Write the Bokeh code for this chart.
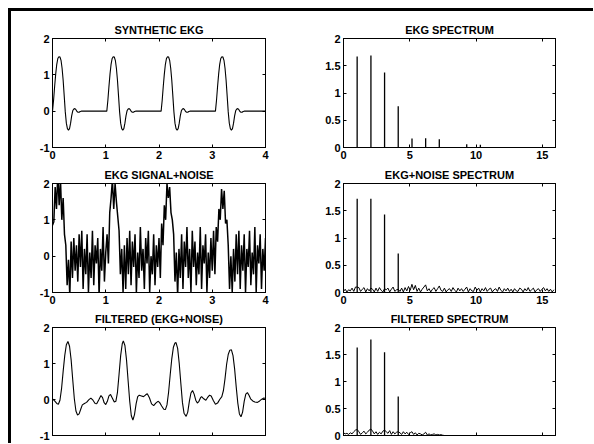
import numpy as np
from bokeh.plotting import figure
from bokeh.models import Range1d, FixedTicker, LinearAxis
from bokeh.layouts import gridplot
from bokeh.embed import file_html
from bokeh.resources import INLINE

FONT = "Liberation Sans"

# ---------------- data ----------------
titles = ["SYNTHETIC EKG", "EKG SPECTRUM", "EKG SIGNAL+NOISE",
          "EKG+NOISE SPECTRUM", "FILTERED (EKG+NOISE)", "FILTERED SPECTRUM"]

time_ticks = [0, 1, 2, 3, 4]
time_tick_labels = ["0", "1", "2", "3", "4"]
amp_ticks = [-1, 0, 1, 2]
amp_tick_labels = ["-1", "0", "1", "2"]
freq_ticks = [0, 5, 10, 15]
freq_tick_labels = ["0", "5", "10", "15"]
mag_ticks = [0, 0.5, 1, 1.5, 2]
mag_tick_labels = ["0", "0.5", "1", "1.5", "2"]

# one beat of the synthetic EKG, sampled every 0.02 s from beat start
beat_dt = 0.02
ekg_beat = [0.0, 0.30, 0.68, 1.02, 1.29, 1.45, 1.50, 1.49, 1.40, 1.18, 0.85,
            0.42, -0.02, -0.33, -0.48, -0.52, -0.48, -0.33, -0.13, 0.01, 0.06,
            0.07, 0.04, -0.01, -0.03, -0.03, -0.01, 0.0]
beat_starts = [0.0, 1.02, 2.04, 3.06]
ekg_end = 4.0

# EKG + noise, sampled every 0.025 s
noisy_dt = 0.025
noisy = [0.85, 0.95, 1.9, 1.3, 2.3, 1.4, 2.1, 1.0, 1.6, 0.6, 0.3, -0.8, -0.1, -1.1, 0.4, -0.6, 0.5, -0.4, 0.3, -0.7, 0.6,
         -0.3, 0.7, -0.9, 0.2, -0.5, 0.6, -1.0, 0.1, -0.6, 0.7, -0.8, 0.3, -0.2, 0.5, -1.1, 0.2, -0.4, 0.8, -0.7, 0.1,
         0.6, -0.2, 1.2, 1.6, 2.1, 1.3, 2.0, 1.5, 1.1, 0.7, -0.5, 0.2, -1.0, 0.3, -0.9, 0.5, -0.5, 0.7, -0.8, 0.4, -0.3,
         0.6, -1.0, 0.1, -0.6, 0.8, -0.4, 0.2, -0.9, 0.5, -0.2, 0.7, -1.0, 0.0, -0.5, 0.6, -0.8, 0.3, -0.3, 0.5, -0.6,
         0.9, 0.3, 1.4, 1.0, 2.0, 1.6, 1.9, 1.2, 1.0, 0.6, -0.7, 0.1, -1.1, 0.2, -0.6, 0.6, -0.9, 0.4, -0.3, 0.8, -0.6,
         0.2, -1.0, 0.7, -0.3, 0.4, -0.8, 0.1, -0.5, 0.8, -0.9, 0.3, -0.2, 0.6, -1.0, 0.1, -0.6, 0.5, -0.4, 0.7,
         -0.5, 0.8, 0.4, 1.3, 1.0, 1.85, 1.3, 1.8, 0.9, 1.0, 0.3, -0.9, 0.0, -1.0, 0.2, -0.7, 0.6, -0.5, 0.7, -0.9, 0.3,
         -0.4, 0.6, -1.0, 0.2, -0.3, 0.7, -0.8, 0.1, -0.5, 0.8, -1.0, 0.3, -0.2, 0.6, -0.9, 0.2, -0.4, 0.5]

# filtered signal
filt_t = [0.00, 0.04, 0.08, 0.11, 0.14, 0.17, 0.20, 0.23, 0.26, 0.29, 0.32, 0.35, 0.38, 0.41, 0.44, 0.47,
          0.50, 0.53, 0.56, 0.60, 0.64, 0.68, 0.72, 0.76, 0.80, 0.83, 0.87, 0.91, 0.94, 0.97, 1.00, 1.03,
          1.06, 1.09, 1.12, 1.16, 1.19, 1.22, 1.25, 1.28, 1.31, 1.33, 1.36, 1.39, 1.42, 1.45, 1.48, 1.51,
          1.54, 1.57, 1.60, 1.63, 1.67, 1.71, 1.75, 1.78, 1.82, 1.86, 1.90, 1.94, 1.98, 2.01, 2.05, 2.09,
          2.12, 2.15, 2.18, 2.21, 2.24, 2.27, 2.30, 2.32, 2.35, 2.38, 2.41, 2.44, 2.47, 2.51, 2.54, 2.57,
          2.60, 2.63, 2.66, 2.69, 2.72, 2.75, 2.78, 2.80, 2.84, 2.88, 2.91, 2.95, 2.98, 3.02, 3.06, 3.10,
          3.14, 3.18, 3.21, 3.24, 3.27, 3.30, 3.33, 3.36, 3.39, 3.42, 3.45, 3.48, 3.51, 3.54, 3.57, 3.60,
          3.63, 3.66, 3.69, 3.72, 3.76, 3.80, 3.85, 3.89, 3.93, 3.97, 4.00]
filt_v = [0.02, -0.04, -0.11, -0.13, -0.02, 0.30, 0.78, 1.22, 1.52, 1.61, 1.48, 1.10, 0.55, 0.02, -0.32, -0.43,
          -0.40, -0.27, -0.15, -0.11, -0.08, -0.01, 0.04, -0.02, -0.11, -0.12, -0.01, 0.11, 0.05, -0.09, -0.14, -0.05,
          0.10, 0.14, 0.05, -0.07, -0.05, 0.20, 0.70, 1.22, 1.55, 1.63, 1.50, 1.10, 0.52, -0.05, -0.45, -0.57,
          -0.42, -0.12, 0.08, 0.12, 0.10, 0.08, 0.13, 0.16, 0.05, -0.12, -0.17, -0.10, -0.05, -0.08, -0.18, -0.27,
          -0.28, -0.15, 0.20, 0.68, 1.13, 1.45, 1.57, 1.58, 1.42, 1.00, 0.45, -0.08, -0.38, -0.47, -0.35, -0.05,
          0.18, 0.25, 0.15, -0.02, -0.10, -0.05, 0.05, 0.08, 0.02, -0.02, 0.05, 0.12, 0.10, -0.03, -0.13, -0.10,
          0.00, 0.08, 0.25, 0.58, 0.98, 1.25, 1.37, 1.38, 1.22, 0.85, 0.35, -0.10, -0.40, -0.48, -0.35, -0.05,
          0.15, 0.19, 0.12, 0.02, -0.04, -0.07, -0.08, -0.04, 0.01, 0.04, 0.03]

# EKG spectrum: harmonic lines
ekg_harm_freq = [1.03, 2.07, 3.10, 4.13, 5.17, 6.20, 7.23, 9.30, 10.33]
ekg_harm_mag = [1.67, 1.69, 1.375, 0.757, 0.167, 0.17, 0.15, 0.06, 0.05]

# spectra of the noisy and filtered signals: bin spacing (Hz), noise floor, main peaks
spec_df = 0.1291
noise_floor = [0.02, 0.06, 0.01, 0.05, 0.03, 0.08, 0.02, 0.10,
               0.10, 0.09, 0.02, 0.06, 0.09, 0.01, 0.07, 0.03,
               0.08, 0.06, 0.01, 0.08, 0.02, 0.09, 0.04, 0.01,
               0.07, 0.05, 0.08, 0.01, 0.06, 0.10, 0.02, 0.05,
               0.06, 0.02, 0.08, 0.01, 0.09, 0.03, 0.11, 0.04,
               0.15, 0.05, 0.13, 0.02, 0.08, 0.01, 0.06, 0.10,
               0.14, 0.03, 0.07, 0.01, 0.06, 0.09, 0.02, 0.07,
               0.12, 0.04, 0.02, 0.08, 0.01, 0.05, 0.07, 0.02,
               0.09, 0.04, 0.01, 0.08, 0.03, 0.07, 0.02, 0.06,
               0.10, 0.01, 0.07, 0.03, 0.02, 0.10, 0.04, 0.08,
               0.01, 0.07, 0.03, 0.09, 0.02, 0.06, 0.08, 0.01,
               0.05, 0.07, 0.02, 0.10, 0.04, 0.01, 0.07, 0.03,
               0.08, 0.02, 0.06, 0.01, 0.07, 0.03, 0.02, 0.08,
               0.06, 0.01, 0.07, 0.03, 0.09, 0.02, 0.05, 0.08,
               0.01, 0.05, 0.07, 0.02, 0.06, 0.09, 0.03, 0.07,
               0.02, 0.06, 0.01, 0.05]
noise_peak_freq = [1.033, 2.066, 3.098, 4.131]
noise_peak_mag = [1.72, 1.72, 1.43, 0.715]

filt_floor = [0.05, 0.03, 0.04, 0.02, 0.05, 0.03, 0.07, 0.10,
              0.11, 0.07, 0.02, 0.05, 0.08, 0.03, 0.06, 0.10,
              0.12, 0.08, 0.03, 0.07, 0.02, 0.06, 0.03, 0.08,
              0.10, 0.07, 0.04, 0.09, 0.02, 0.07, 0.03, 0.06,
              0.07, 0.05, 0.02, 0.07, 0.03, 0.06, 0.02, 0.05,
              0.07, 0.02, 0.05, 0.01, 0.04, 0.03, 0.01, 0.03,
              0.06, 0.01, 0.03, 0.01, 0.02, 0.03, 0.01, 0.02,
              0.01, 0.015, 0.005, 0.0, 0.0]
filt_peak_freq = [1.033, 2.066, 3.098, 4.131]
filt_peak_mag = [1.63, 1.78, 1.54, 0.72]

# ---------------- derived x/y arrays ----------------
beat_off = np.arange(len(ekg_beat)) * beat_dt
ekg_t = np.concatenate([s + beat_off for s in beat_starts] + [[ekg_end]])
ekg_v = np.concatenate([ekg_beat for _ in beat_starts] + [[0.0]])
noisy_t = np.arange(len(noisy)) * noisy_dt
noise_f = np.arange(len(noise_floor)) * spec_df
filt_f = np.arange(len(filt_floor)) * spec_df

# ---------------- layout geometry ----------------
COLS = [dict(width=289, left=41, right=35), dict(width=293, left=43, right=38)]
ROWS = [dict(height=152, top=27, bottom=16), dict(height=144, top=20, bottom=15),
        dict(height=136, top=20, bottom=8)]


def style_axis(ax, ticks, labels, show):
    ax.ticker = FixedTicker(ticks=ticks)
    ax.major_tick_in = 3
    ax.major_tick_out = 0
    ax.minor_tick_line_color = None
    ax.axis_line_color = "black"
    ax.axis_line_width = 1
    ax.major_tick_line_color = "black"
    ax.major_label_text_font = FONT
    ax.major_label_text_font_style = "bold"
    ax.major_label_text_color = "black"
    if show:
        ax.major_label_overrides = {t: l for t, l in zip(ticks, labels)}
        ax.major_label_text_font_size = "11px"
        ax.major_label_standoff = 3
    else:
        ax.major_label_overrides = {t: "" for t in ticks}
        ax.major_label_text_font_size = "1px"
        ax.major_label_standoff = 0


def make_fig(r, c, title, xr, yr, xt, xl, yt, yl, show_x=True):
    col, row = COLS[c], ROWS[r]
    p = figure(width=col["width"], height=row["height"],
               x_range=Range1d(*xr), y_range=Range1d(*yr),
               x_axis_type=None, y_axis_type=None,
               output_backend="svg", toolbar_location=None, tools="",
               min_border_left=col["left"], min_border_right=col["right"],
               min_border_top=row["top"], min_border_bottom=row["bottom"],
               title=title)
    p.title.align = "center"
    p.title.text_font = FONT
    p.title.text_font_size = "11px"
    p.title.text_font_style = "bold"
    p.title.text_color = "black"
    p.title.standoff = 6
    p.outline_line_color = "black"
    p.outline_line_width = 1
    p.background_fill_color = "white"
    p.border_fill_color = "white"
    for loc, ticks, labels, show in [("below", xt, xl, show_x), ("left", yt, yl, True),
                                     ("above", xt, xl, False), ("right", yt, yl, False)]:
        ax = LinearAxis()
        style_axis(ax, ticks, labels, show)
        p.add_layout(ax, loc)
    return p


p1 = make_fig(0, 0, titles[0], (0, 4), (-1, 2), time_ticks, time_tick_labels, amp_ticks, amp_tick_labels)
p1.line(ekg_t, ekg_v, line_color="black", line_width=1.1)

p2 = make_fig(0, 1, titles[1], (0, 16), (0, 2), freq_ticks, freq_tick_labels, mag_ticks, mag_tick_labels)
p2.segment(x0=ekg_harm_freq, y0=[0] * len(ekg_harm_freq), x1=ekg_harm_freq, y1=ekg_harm_mag,
           line_color="black", line_width=1.3)

p3 = make_fig(1, 0, titles[2], (0, 4), (-1, 2), time_ticks, time_tick_labels, amp_ticks, amp_tick_labels)
p3.line(noisy_t, noisy, line_color="black", line_width=1.5)

p4 = make_fig(1, 1, titles[3], (0, 16), (0, 2), freq_ticks, freq_tick_labels, mag_ticks, mag_tick_labels)
p4.line(noise_f, noise_floor, line_color="black", line_width=1.0)
p4.segment(x0=noise_peak_freq, y0=[0] * len(noise_peak_freq), x1=noise_peak_freq, y1=noise_peak_mag,
           line_color="black", line_width=1.3)

p5 = make_fig(2, 0, titles[4], (0, 4), (-1, 2), time_ticks, time_tick_labels, amp_ticks, amp_tick_labels, show_x=False)
p5.line(filt_t, filt_v, line_color="black", line_width=1.1)

p6 = make_fig(2, 1, titles[5], (0, 16), (0, 2), freq_ticks, freq_tick_labels, mag_ticks, mag_tick_labels, show_x=False)
p6.line(filt_f, filt_floor, line_color="black", line_width=1.0)
p6.segment(x0=filt_peak_freq, y0=[0] * len(filt_peak_freq), x1=filt_peak_freq, y1=filt_peak_mag,
           line_color="black", line_width=1.3)

grid = gridplot([[p1, p2], [p3, p4], [p5, p6]], toolbar_location=None)
grid.margin = (8, 0, 0, 8)
grid.styles = {"border-top": "3px solid black", "border-left": "3px solid black"}

open("out.html", "w").write(file_html(grid, INLINE))
